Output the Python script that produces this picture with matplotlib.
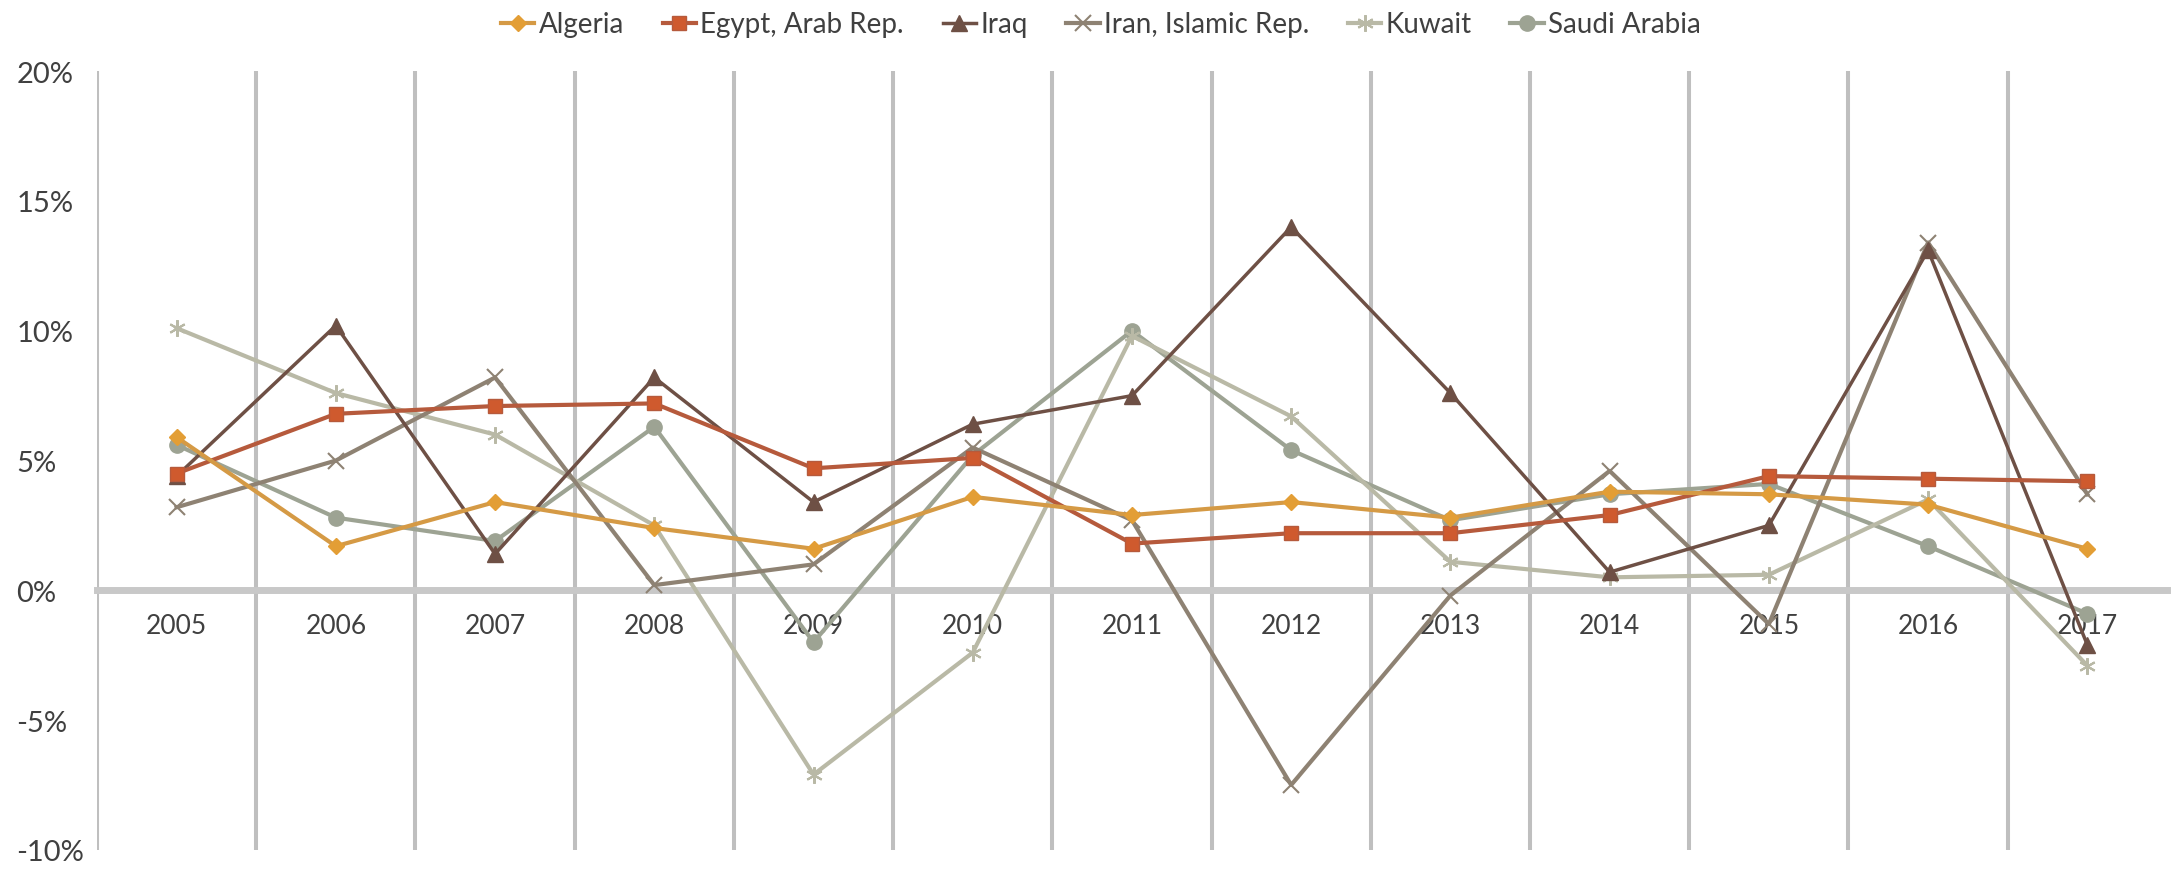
import numpy as np
import matplotlib
matplotlib.use('Agg')
import matplotlib.pyplot as plt
from matplotlib.ticker import FuncFormatter

plt.rcParams['font.family'] = ['Lato', 'DejaVu Sans']

years = ['2005', '2006', '2007', '2008', '2009', '2010', '2011',
         '2012', '2013', '2014', '2015', '2016', '2017']

# growth rates in %
algeria = [5.9, 1.7, 3.4, 2.4, 1.6, 3.6, 2.9, 3.4, 2.8, 3.8, 3.7, 3.3, 1.6]
egypt = [4.5, 6.8, 7.1, 7.2, 4.7, 5.1, 1.8, 2.2, 2.2, 2.9, 4.4, 4.3, 4.2]
iraq = [4.4, 10.2, 1.4, 8.2, 3.4, 6.4, 7.5, 14.0, 7.6, 0.7, 2.5, 13.1, -2.1]
iran = [3.2, 5.0, 8.2, 0.2, 1.0, 5.5, 2.7, -7.5, -0.2, 4.6, -1.3, 13.4, 3.7]
kuwait = [10.1, 7.6, 6.0, 2.5, -7.1, -2.4, 9.8, 6.7, 1.1, 0.5, 0.6, 3.5, -2.9]
saudi = [5.6, 2.8, 1.9, 6.3, -2.0, 5.2, 10.0, 5.4, 2.7, 3.7, 4.1, 1.7, -0.9]

x = np.arange(len(years))

fig = plt.figure(figsize=(21.8, 8.7), dpi=100)
ax = fig.add_axes([0.0445, 0.022, 0.9495, 0.895])

# draw order: back to front
ax.plot(x, saudi, color='#9DA393', lw=3, marker='o', ms=11, label='Saudi Arabia', zorder=3)
ax.plot(x, kuwait, color='#B9B9A6', lw=3, marker=(6, 2, 0), ms=12, mew=1.5, label='Kuwait', zorder=3)
ax.plot(x, iran, color='#8E8273', lw=3, marker='x', ms=11, mew=1.5, label='Iran, Islamic Rep.', zorder=3)
ax.plot(x, iraq, color='#6E5045', lw=2.5, marker='^', ms=11, label='Iraq', zorder=3)
ax.plot(x, egypt, color='#B65A3C', lw=3, marker='s', ms=10, mfc='#CF5A2E', mec='#B65A3C', label='Egypt, Arab Rep.', zorder=3)
ax.plot(x, algeria, color='#D59A45', lw=3, marker='D', ms=8, mfc='#E39E35', mec='#E39E35', label='Algeria', zorder=3)

ax.set_xlim(-0.5, 12.5)
ax.set_ylim(-10, 20)

ax.set_xticks(x)
ax.set_xticklabels(years)
ax.set_xticks(np.arange(-0.5, 12.0, 1), minor=True)
ax.grid(which='minor', axis='x', color='#BFBFBF', lw=2.9)
ax.tick_params(axis='x', which='both', length=0, labelsize=19, colors='#404040', pad=16)

ax.set_yticks(np.arange(-10, 21, 5))
ax.yaxis.set_major_formatter(FuncFormatter(lambda v, p: '%d%%' % v))
ax.tick_params(axis='y', length=0, labelsize=21, colors='#404040', pad=58)
for t in ax.get_yticklabels():
    t.set_horizontalalignment('left')

for s in ['top', 'right', 'left']:
    ax.spines[s].set_visible(False)
ax.spines['bottom'].set_position(('data', 0))
ax.spines['bottom'].set_color('#C8C8C8')
ax.spines['bottom'].set_linewidth(5)
ax.spines['bottom'].set_zorder(2)

h, l = ax.get_legend_handles_labels()
order = ['Algeria', 'Egypt, Arab Rep.', 'Iraq', 'Iran, Islamic Rep.', 'Kuwait', 'Saudi Arabia']
hh = [h[l.index(n)] for n in order]
fig.legend(hh, order, loc='center', bbox_to_anchor=(0.505, 0.971), ncol=6, frameon=False,
           fontsize=20, handlelength=1.2, handletextpad=0.15, columnspacing=1.4,
           labelcolor='#404040')

fig.savefig('out.png', dpi=100)
